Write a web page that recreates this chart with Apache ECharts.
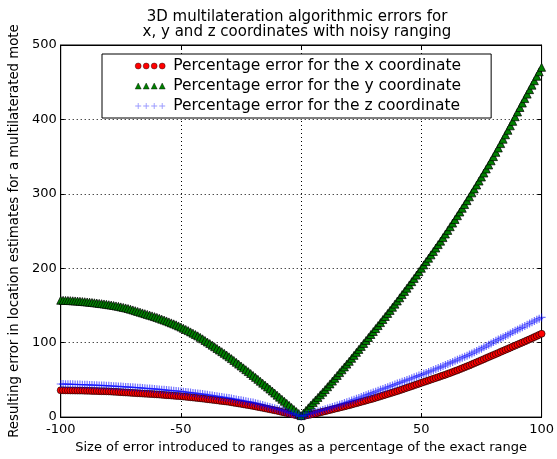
<!DOCTYPE html>
<html>
<head>
<meta charset="utf-8">
<script src="https://cdn.jsdelivr.net/npm/echarts@6/dist/echarts.min.js"></script>
<style>html,body{margin:0;padding:0;background:#fff}#c{width:557px;height:459px}</style>
</head>
<body>
<div id="c"></div>
<script>
// Size of error introduced (x axis), -100 .. 100 in steps of 1
const errorSizes = [];
for (let v = -100; v <= 100; v++) errorSizes.push(v);

const xTicks = [-100, -50, 0, 50, 100];
const yTicks = [0, 100, 200, 300, 400, 500];

// Percentage error for the x coordinate (red circles)
const errX = [
36.0, 36.0, 35.9, 35.9, 35.8, 35.8, 35.7, 35.7, 35.6, 35.6, 35.5,
35.4, 35.3, 35.2, 35.1, 35.0, 34.9, 34.8, 34.7, 34.6, 34.5,
34.3, 34.1, 33.9, 33.7, 33.5, 33.3, 33.1, 32.9, 32.7, 32.5,
32.3, 32.1, 31.9, 31.7, 31.5, 31.3, 31.1, 30.9, 30.7, 30.5,
30.3, 30.0, 29.8, 29.5, 29.3, 29.0, 28.8, 28.5, 28.3, 28.0,
27.7, 27.4, 27.0, 26.7, 26.3, 26.0, 25.6, 25.3, 24.9, 24.5,
24.1, 23.7, 23.3, 22.9, 22.5, 22.1, 21.7, 21.3, 20.9, 20.5,
20.0, 19.4, 18.9, 18.3, 17.8, 17.2, 16.7, 16.1, 15.6, 15.0,
14.4, 13.7, 13.1, 12.4, 11.8, 11.1, 10.5, 9.8, 9.2, 8.5,
7.8, 7.0, 6.3, 5.5, 4.8, 4.0, 3.3, 2.5, 1.8, 1.0,
1.6, 2.2, 2.8, 3.4, 4.0, 4.8, 5.6, 6.4, 7.2, 8.0,
8.8, 9.6, 10.4, 11.2, 12.0, 12.8, 13.6, 14.4, 15.2, 16.0,
16.9, 17.8, 18.7, 19.6, 20.5, 21.4, 22.3, 23.2, 24.1, 25.0,
26.0, 27.0, 28.0, 29.0, 30.0, 31.0, 32.0, 33.0, 34.0, 35.0,
36.1, 37.2, 38.3, 39.4, 40.5, 41.6, 42.7, 43.8, 44.9, 46.0,
47.1, 48.2, 49.3, 50.4, 51.5, 52.6, 53.7, 54.8, 55.9, 57.0,
58.2, 59.4, 60.6, 61.8, 63.0, 64.3, 65.6, 66.9, 68.2, 69.5,
70.9, 72.3, 73.7, 75.1, 76.5, 77.9, 79.3, 80.7, 82.1, 83.5,
84.9, 86.3, 87.7, 89.1, 90.5, 91.9, 93.3, 94.7, 96.1, 97.5,
98.9, 100.3, 101.7, 103.1, 104.5, 106.0, 107.5, 109.0, 110.5, 112.0
];

// Percentage error for the y coordinate (green triangles)
const errY = [
157.0, 156.9, 156.8, 156.7, 156.5, 156.3, 156.1, 155.9, 155.6, 155.3, 155.0,
154.7, 154.4, 154.0, 153.6, 153.2, 152.8, 152.4, 152.0, 151.5, 151.0,
150.5, 150.0, 149.4, 148.8, 148.1, 147.4, 146.7, 145.9, 145.0, 144.0,
143.0, 142.0, 141.0, 140.0, 139.0, 138.0, 137.0, 136.0, 135.0, 134.0,
132.8, 131.6, 130.4, 129.2, 127.9, 126.6, 125.3, 124.0, 122.5, 121.0,
119.4, 117.8, 116.2, 114.5, 112.8, 111.0, 109.2, 107.2, 105.2, 103.0,
100.9, 98.8, 96.7, 94.5, 92.3, 90.1, 87.9, 85.7, 83.4, 81.0,
78.6, 76.2, 73.7, 71.2, 68.7, 66.2, 63.7, 61.2, 58.6, 56.0,
53.4, 50.8, 48.2, 45.6, 43.0, 40.4, 37.7, 35.0, 32.3, 29.5,
26.8, 24.0, 21.3, 18.5, 15.8, 13.0, 10.3, 7.5, 4.8, 2.0,
5.5, 9.0, 12.5, 16.0, 19.5, 23.0, 26.5, 30.0, 33.5, 37.0,
40.8, 44.6, 48.4, 52.2, 56.0, 59.8, 63.6, 67.4, 71.2, 75.0,
79.0, 83.0, 87.0, 91.0, 95.0, 99.0, 103.0, 107.0, 111.0, 115.0,
119.0, 123.0, 127.0, 131.1, 135.2, 139.3, 143.4, 147.6, 151.8, 156.0,
160.3, 164.6, 168.9, 173.2, 177.6, 182.0, 186.4, 190.8, 195.4, 200.0,
204.5, 209.0, 213.5, 218.0, 222.6, 227.2, 231.8, 236.4, 241.2, 246.0,
250.9, 255.8, 260.7, 265.6, 270.6, 275.6, 280.6, 285.6, 290.8, 296.0,
301.3, 306.6, 311.9, 317.2, 322.6, 328.0, 333.4, 338.8, 344.4, 350.0,
355.8, 361.6, 367.5, 373.4, 379.4, 385.4, 391.4, 397.4, 403.6, 410.0,
416.0, 422.0, 428.0, 434.0, 440.0, 446.0, 452.0, 458.0, 464.0, 470.0
];

// Percentage error for the z coordinate (blue pluses)
const errZ = [
44.5, 44.4, 44.3, 44.2, 44.1, 44.0, 43.9, 43.8, 43.7, 43.6, 43.5,
43.4, 43.2, 43.1, 42.9, 42.8, 42.6, 42.5, 42.3, 42.2, 42.0,
41.8, 41.6, 41.4, 41.2, 41.0, 40.8, 40.6, 40.4, 40.2, 40.0,
39.8, 39.5, 39.3, 39.0, 38.8, 38.5, 38.3, 38.0, 37.8, 37.5,
37.2, 36.9, 36.6, 36.3, 36.0, 35.7, 35.4, 35.1, 34.8, 34.5,
34.1, 33.7, 33.3, 32.9, 32.5, 32.1, 31.7, 31.3, 30.9, 30.5,
30.0, 29.5, 29.0, 28.5, 28.0, 27.5, 27.0, 26.5, 26.0, 25.5,
24.9, 24.3, 23.7, 23.1, 22.5, 21.9, 21.3, 20.7, 20.1, 19.5,
18.7, 17.8, 17.0, 16.1, 15.3, 14.4, 13.6, 12.7, 11.9, 11.0,
10.0, 9.0, 8.0, 7.0, 6.0, 5.0, 4.0, 3.0, 2.0, 1.0,
1.9, 2.8, 3.8, 4.7, 5.7, 6.7, 7.6, 8.6, 9.5, 10.5,
11.5, 12.5, 13.5, 14.5, 15.6, 16.6, 17.7, 18.8, 19.9, 21.0,
22.2, 23.4, 24.6, 25.8, 27.0, 28.2, 29.4, 30.6, 31.8, 33.0,
34.2, 35.4, 36.6, 37.8, 39.0, 40.2, 41.4, 42.6, 43.8, 45.0,
46.2, 47.4, 48.6, 49.8, 51.0, 52.2, 53.4, 54.6, 55.8, 57.0,
58.2, 59.4, 60.7, 62.0, 63.3, 64.6, 65.9, 67.2, 68.6, 70.0,
71.4, 72.8, 74.2, 75.6, 77.0, 78.4, 79.8, 81.2, 82.6, 84.0,
85.6, 87.2, 88.8, 90.4, 92.0, 93.7, 95.4, 97.1, 99.0, 101.0,
102.6, 104.2, 105.8, 107.4, 109.1, 110.8, 112.5, 114.2, 115.9, 117.5,
119.1, 120.7, 122.4, 124.1, 125.8, 127.5, 129.1, 130.7, 132.3, 134.0
];

const seriesNames = [
  'Percentage error for the x coordinate',
  'Percentage error for the y coordinate',
  'Percentage error for the z coordinate'
];

const FONT = 'DejaVu Sans';
const PLUS = 'path://M0,4.25H10V5.75H0Z M4.25,0H5.75V10H4.25Z';
function row(shape) {
  const cs = [4, 14.67, 25.33, 36];
  return 'path://' + cs.map(shape).join(' ');
}
const iconCircles = row(c => `M${c-4},4 a4,4 0 1,0 8,0 a4,4 0 1,0 -8,0 Z`);
const iconTriangles = row(c => `M${c-4},8 L${c},0 L${c+4},8 Z`);
const iconPlus = row(c => `M${c-4},3.4 H${c+4} V4.6 H${c-4} Z M${c-0.6},0 H${c+0.6} V8 H${c-0.6} Z`);

const pairs = arr => errorSizes.map((x, i) => [x, arr[i]]);

const chart = echarts.init(document.getElementById('c'), null, {renderer: 'canvas'});
const axisCommon = {
  type: 'value',
  axisLine: {show: true, onZero: false, lineStyle: {color: '#000', width: 1}},
  axisTick: {show: true, inside: true, length: 4, lineStyle: {color: '#000'}},
};
chart.setOption({
  animation: false,
  backgroundColor: '#fff',
  textStyle: {fontFamily: FONT},
  title: {
    text: '3D multilateration algorithmic errors for\nx, y and z coordinates with noisy ranging',
    left: 292, top: 5, textAlign: 'center',
    textStyle: {fontFamily: FONT, fontWeight: 'normal', fontSize: 15, lineHeight: 14.5, color: '#000'}
  },
  grid: {left: 53, right: 14, top: 45, bottom: 36, show: true, borderColor: '#000', borderWidth: 1, backgroundColor: 'transparent'},
  legend: {
    orient: 'vertical', left: 102, top: 54,
    padding: [4, 30, 4, 33], itemGap: 4,
    itemWidth: 30, itemHeight: 6.5,
    borderColor: '#000', borderWidth: 1, backgroundColor: '#fff',
    textStyle: {fontFamily: FONT, fontSize: 15.5, color: '#000', lineHeight: 15.5, padding: [0, 0, 0, 3]},
    data: [
      {name: seriesNames[0], icon: iconCircles, itemStyle: {color: '#ff0000', borderColor: '#000', borderWidth: 0.4}},
      {name: seriesNames[1], icon: iconTriangles, itemStyle: {color: '#008000', borderColor: '#000', borderWidth: 0.4}},
      {name: seriesNames[2], icon: iconPlus, itemStyle: {color: 'rgba(0,0,255,0.5)', borderWidth: 0}}
    ]
  },
  xAxis: [
    Object.assign({}, axisCommon, {
      min: xTicks[0], max: xTicks[xTicks.length - 1], interval: 50, position: 'bottom',
      axisLabel: {color: '#000', fontSize: 13, fontFamily: FONT, margin: 6},
      splitLine: {show: true, lineStyle: {color: '#000', type: [1, 3], width: 1}},
      name: 'Size of error introduced to ranges as a percentage of the exact range',
      nameLocation: 'middle', nameGap: 20,
      nameTextStyle: {color: '#000', fontSize: 13, fontFamily: FONT}
    }),
    Object.assign({}, axisCommon, {
      min: xTicks[0], max: xTicks[xTicks.length - 1], interval: 50, position: 'top',
      axisLabel: {show: false}, splitLine: {show: false}
    })
  ],
  yAxis: [
    Object.assign({}, axisCommon, {
      min: yTicks[0], max: yTicks[yTicks.length - 1], interval: 100, position: 'left',
      axisLabel: {color: '#000', fontSize: 13, fontFamily: FONT, margin: 4},
      splitLine: {show: true, lineStyle: {color: '#000', type: [1, 3], width: 1}},
      name: 'Resulting error in location estimates for a multilaterated mote',
      nameLocation: 'middle', nameGap: 33,
      nameTextStyle: {color: '#000', fontSize: 13.3, fontFamily: FONT}
    }),
    Object.assign({}, axisCommon, {
      min: yTicks[0], max: yTicks[yTicks.length - 1], interval: 100, position: 'right',
      axisLabel: {show: false}, splitLine: {show: false}
    })
  ],
  series: [
    {
      name: seriesNames[0], type: 'scatter', data: pairs(errX),
      symbol: 'circle', symbolSize: 7,
      itemStyle: {color: '#ff0000', borderColor: '#000', borderWidth: 0.6, opacity: 1},
      z: 2
    },
    {
      name: seriesNames[1], type: 'scatter', data: pairs(errY),
      symbol: 'triangle', symbolSize: 8,
      itemStyle: {color: '#008000', borderColor: '#000', borderWidth: 0.7, opacity: 1},
      z: 3
    },
    {
      name: seriesNames[2], type: 'scatter', data: pairs(errZ),
      symbol: PLUS, symbolSize: 8,
      itemStyle: {color: 'rgba(0,0,255,0.7)', borderWidth: 0},
      z: 4
    }
  ]
});
</script>
</body>
</html>
